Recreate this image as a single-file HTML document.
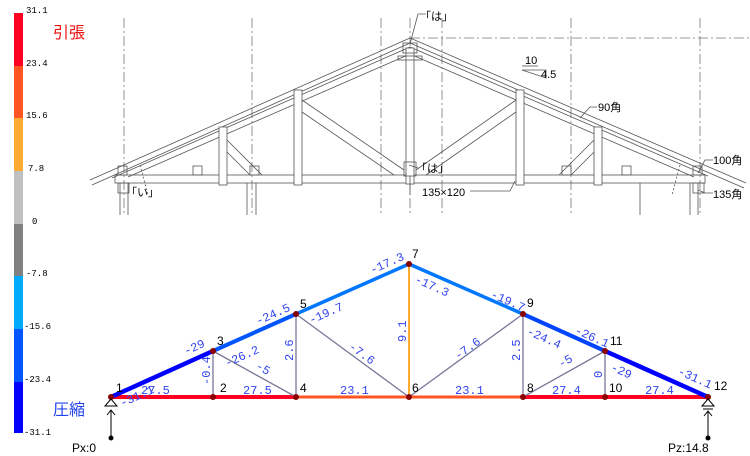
<!DOCTYPE html>
<html><head><meta charset="utf-8"><style>
html,body{margin:0;padding:0;background:#fff;width:750px;height:456px;overflow:hidden}
svg{display:block}
.t{font-family:"Liberation Sans","Noto Sans CJK JP",sans-serif}
.f{font-family:"Liberation Mono","Noto Sans CJK JP",monospace;font-size:12px;fill:#3344ee}
.n{font-family:"Liberation Sans",sans-serif;font-size:12px;fill:#000}
.s{font-family:"Liberation Mono",monospace;font-size:9px;fill:#000}
</style></head><body>
<svg width="750" height="456" viewBox="0 0 750 456">
<rect x="14" y="13" width="9" height="53" fill="#ff0022"/>
<rect x="14" y="66" width="9" height="52" fill="#ff5522"/>
<rect x="14" y="118" width="9" height="53" fill="#ffaa33"/>
<rect x="14" y="171" width="9" height="53" fill="#c0c0c0"/>
<rect x="14" y="224" width="9" height="52" fill="#808080"/>
<rect x="14" y="276" width="9" height="53" fill="#00aaff"/>
<rect x="14" y="329" width="9" height="53" fill="#0055ff"/>
<rect x="14" y="382" width="9" height="51" fill="#0000ff"/>
<g class="s">
<text x="26" y="13">31.1</text><text x="26" y="66">23.4</text><text x="26" y="118">15.6</text>
<text x="28" y="171">7.8</text><text x="32" y="224">0</text><text x="26" y="276">-7.8</text>
<text x="24" y="329">-15.6</text><text x="24" y="382">-23.4</text><text x="24" y="435">-31.1</text>
</g>
<text x="53" y="38" class="t" font-size="16" fill="#ee1111">引張</text>
<text x="53" y="415" class="t" font-size="16" fill="#2244ee">圧縮</text>

<g stroke="#555" stroke-width="0.8" fill="none">
<g stroke-dasharray="10,3,2,3" stroke="#777">
<line x1="124" y1="18" x2="124" y2="215"/><line x1="252" y1="18" x2="252" y2="215"/>
<line x1="381" y1="18" x2="381" y2="215"/><line x1="442" y1="18" x2="442" y2="215"/>
<line x1="571" y1="18" x2="571" y2="215"/><line x1="700" y1="18" x2="700" y2="215"/>
<line x1="410" y1="38" x2="750" y2="38"/><line x1="410" y1="18" x2="410" y2="215"/>
</g>
<line x1="90" y1="180" x2="410" y2="38"/><line x1="92" y1="185" x2="410" y2="43"/>
<line x1="410" y1="38" x2="746" y2="183"/><line x1="410" y1="43" x2="744" y2="188"/>
<line x1="112" y1="178" x2="410" y2="47"/><line x1="128" y1="177" x2="410" y2="54"/>
<line x1="410" y1="47" x2="708" y2="176"/><line x1="410" y1="54" x2="694" y2="177"/>
<rect x="115" y="175" width="590" height="8"/>
<rect x="219" y="127" width="8" height="58" fill="#fff"/>
<rect x="294" y="90" width="8" height="95" fill="#fff"/>
<rect x="406" y="48" width="8" height="136" fill="#fff"/>
<rect x="516" y="90" width="8" height="95" fill="#fff"/>
<rect x="594" y="127" width="8" height="58" fill="#fff"/>
<line x1="227" y1="140" x2="262" y2="175"/><line x1="227" y1="152" x2="250" y2="175"/>
<line x1="302" y1="100" x2="404" y2="170"/><line x1="302" y1="112" x2="394" y2="175"/>
<line x1="516" y1="100" x2="416" y2="170"/><line x1="516" y1="112" x2="426" y2="175"/>
<line x1="594" y1="140" x2="559" y2="175"/><line x1="594" y1="152" x2="571" y2="175"/>
<line x1="120" y1="183" x2="120" y2="215"/><line x1="128" y1="183" x2="128" y2="215"/>
<line x1="247" y1="183" x2="247" y2="215"/><line x1="256" y1="183" x2="256" y2="215"/>
<line x1="690" y1="183" x2="690" y2="215"/><line x1="698" y1="183" x2="698" y2="215"/>
<line x1="640" y1="183" x2="640" y2="215"/>
<rect x="118" y="183" width="11" height="10"/><rect x="693" y="183" width="11" height="10"/>
<rect x="118" y="166" width="9" height="9"/><rect x="693" y="166" width="9" height="9"/>
<rect x="193" y="166" width="9" height="9"/><rect x="250" y="166" width="9" height="9"/>
<rect x="562" y="166" width="9" height="9"/><rect x="622" y="166" width="9" height="9"/>
<rect x="403" y="43" width="14" height="10"/><rect x="398" y="56" width="24" height="4"/>
<rect x="404" y="162" width="12" height="14"/>
<line x1="410" y1="176" x2="410" y2="195"/>
<polyline points="410,44 418,14 426,14"/>
<polyline points="409,165 418,168"/>
<polyline points="515,181 510,191 470,191"/>
<polyline points="580,118 590,107 597,107"/>
<polyline points="698,173 705,160 713,160"/>
<polyline points="698,190 705,193 713,193"/>
<polygon points="522,70 546,70 546,78"/>
<line x1="522" y1="66" x2="538" y2="66"/>
<line x1="140" y1="165" x2="148" y2="195" stroke-dasharray="2,2"/>
<line x1="680" y1="165" x2="672" y2="195" stroke-dasharray="2,2"/>
</g>
<g class="t" font-size="11" fill="#000">
<text x="420" y="20">「は」</text><text x="416" y="172">「は」</text><text x="126" y="196">「い」</text>
<text x="525" y="64">10</text><text x="541" y="78">4.5</text>
<text x="598" y="111">90角</text><text x="713" y="164">100角</text><text x="713" y="198">135角</text>
<text x="422" y="196">135×120</text>
</g>

<g stroke-linecap="round">
<line x1="111" y1="397" x2="296" y2="397" stroke="#ff0022" stroke-width="4"/>
<line x1="296" y1="397" x2="523" y2="397" stroke="#ff5522" stroke-width="3"/>
<line x1="523" y1="397" x2="708" y2="397" stroke="#ff0022" stroke-width="4"/>
<line x1="111" y1="397" x2="213" y2="351" stroke="#0000ff" stroke-width="4.5"/>
<line x1="213" y1="351" x2="296" y2="314" stroke="#0055ff" stroke-width="4"/>
<line x1="296" y1="314" x2="409" y2="264" stroke="#0077ff" stroke-width="3.5"/>
<line x1="409" y1="264" x2="523" y2="314" stroke="#0077ff" stroke-width="3.5"/>
<line x1="523" y1="314" x2="605" y2="351" stroke="#0044ff" stroke-width="4"/>
<line x1="605" y1="351" x2="708" y2="397" stroke="#0000ff" stroke-width="4.5"/>
<line x1="409" y1="264" x2="409" y2="397" stroke="#ffaa33" stroke-width="2"/>
<g stroke="#777799" stroke-width="1.3">
<line x1="213" y1="351" x2="213" y2="397"/><line x1="296" y1="314" x2="296" y2="397"/>
<line x1="523" y1="314" x2="523" y2="397"/><line x1="605" y1="351" x2="605" y2="397"/>
<line x1="213" y1="351" x2="296" y2="397"/><line x1="296" y1="314" x2="409" y2="397"/>
<line x1="523" y1="314" x2="409" y2="397"/><line x1="605" y1="351" x2="523" y2="397"/>
</g>
</g>
<g fill="#880000">
<circle cx="111" cy="397" r="3"/><circle cx="213" cy="397" r="3"/><circle cx="296" cy="397" r="3"/>
<circle cx="409" cy="397" r="3"/><circle cx="523" cy="397" r="3"/><circle cx="605" cy="397" r="3"/>
<circle cx="708" cy="397" r="3"/><circle cx="213" cy="351" r="3"/><circle cx="296" cy="314" r="3"/>
<circle cx="409" cy="264" r="3"/><circle cx="523" cy="314" r="3"/><circle cx="605" cy="351" r="3"/>
</g>
<g stroke="#000" fill="#fff" stroke-width="1">
<polygon points="111,399 105,406 117,406"/><line x1="111" y1="410" x2="111" y2="437"/>
<polyline points="107,415 111,410 115,415" fill="none"/>
<polygon points="708,399 702,406 714,406"/><line x1="703" y1="409" x2="713" y2="409"/>
<line x1="708" y1="411" x2="708" y2="437"/>
<polyline points="704,416 708,411 712,416" fill="none"/>
</g>
<circle cx="111" cy="438" r="2.5"/><circle cx="708" cy="438" r="2.5"/>
<text x="72" y="452" class="n">Px:0</text><text x="668" y="452" class="n">Pz:14.8</text>
<g class="n">
<text x="116" y="392">1</text><text x="220" y="392">2</text><text x="217" y="345">3</text>
<text x="300" y="392">4</text><text x="300" y="308">5</text><text x="412" y="392">6</text>
<text x="412" y="258">7</text><text x="527" y="392">8</text><text x="527" y="307">9</text>
<text x="609" y="392">10</text><text x="610" y="345">11</text><text x="714" y="390">12</text>
</g>
<g class="f">
<text x="141" y="394">27.5</text><text x="243" y="394">27.5</text>
<text x="340" y="394">23.1</text><text x="455" y="394">23.1</text>
<text x="552" y="394">27.4</text><text x="645" y="394">27.4</text>
<text transform="translate(122,407) rotate(-24)">-31.1</text>
<text transform="translate(186,355) rotate(-24)">-29</text>
<text transform="translate(258,325) rotate(-24)">-24.5</text>
<text transform="translate(227,367) rotate(-24)">-26.2</text>
<text transform="translate(311,324) rotate(-24)">-19.7</text>
<text transform="translate(372,274) rotate(-24)">-17.3</text>
<text transform="translate(414,282) rotate(24)">-17.3</text>
<text transform="translate(490,297) rotate(24)">-19.7</text>
<text transform="translate(526,334) rotate(24)">-24.4</text>
<text transform="translate(574,333) rotate(24)">-26.1</text>
<text transform="translate(610,370) rotate(24)">-29</text>
<text transform="translate(677,374) rotate(24)">-31.1</text>
<text transform="translate(255,368) rotate(30)">-5</text>
<text transform="translate(348,348) rotate(36)">-7.6</text>
<text transform="translate(458,360) rotate(-36)">-7.6</text>
<text transform="translate(561,368) rotate(-30)">-5</text>
<text transform="translate(210,385) rotate(-90)">-0.4</text>
<text transform="translate(293,361) rotate(-90)">2.6</text>
<text transform="translate(406,342) rotate(-90)">9.1</text>
<text transform="translate(520,361) rotate(-90)">2.5</text>
<text transform="translate(602,378) rotate(-90)">0</text>
</g>
</svg>
</body></html>
